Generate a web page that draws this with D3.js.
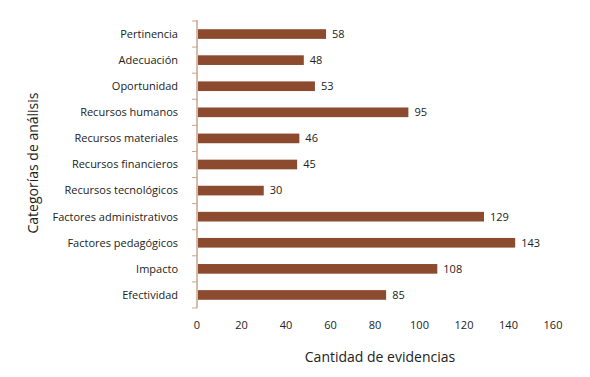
<!DOCTYPE html>
<html><head><meta charset="utf-8">
<script src="https://cdn.jsdelivr.net/npm/d3@7"></script>
<style>body{margin:0;background:#fff;} svg{display:block;}</style>
</head><body>
<svg id="c" width="590" height="377"></svg>
<script>
const categories = ["Pertinencia","Adecuación","Oportunidad","Recursos humanos","Recursos materiales","Recursos financieros","Recursos tecnológicos","Factores administrativos","Factores pedagógicos","Impacto","Efectividad"];
const values = [58,48,53,95,46,45,30,129,143,108,85];
const xTicks = [0,20,40,60,80,100,120,140,160];

const svg = d3.select("#c");
const font = "'Open Sans', sans-serif";
const x = d3.scaleLinear().domain([0,160]).range([197,553]);
const y = d3.scaleBand().domain(categories).range([21,308]).paddingInner(0.63).paddingOuter(0.315);
const barColor = "#8c4a2f", axisColor = "#c9a48f";

// y axis
const yAxis = svg.append("g").attr("transform","translate(197,0)");
yAxis.append("line").attr("x1",0).attr("x2",0).attr("y1",20).attr("y2",308).attr("stroke",axisColor).attr("stroke-width",1.5);
const step = y.step();
const bounds = d3.range(categories.length+1).map(i => 21 + i*step);
yAxis.selectAll(".tk").data(bounds).join("line").attr("x1",-5).attr("x2",0).attr("y1",d=>d).attr("y2",d=>d).attr("stroke",axisColor).attr("stroke-width",1);

svg.append("g").selectAll("text").data(categories).join("text")
  .attr("x",178).attr("y",d=>y(d)+y.bandwidth()/2).attr("dy","0.35em")
  .attr("text-anchor","end").attr("font-family",font).attr("font-size",11).attr("fill","#222").text(d=>d);

// bars
svg.append("g").selectAll("rect").data(values).join("rect")
  .attr("x",x(0)+1).attr("y",(d,i)=>y(categories[i])).attr("width",d=>x(d)-x(0)-1).attr("height",y.bandwidth()).attr("fill",barColor);

svg.append("g").selectAll("text").data(values).join("text")
  .attr("x",d=>x(d)+6).attr("y",(d,i)=>y(categories[i])+y.bandwidth()/2).attr("dy","0.35em")
  .attr("font-family",font).attr("font-size",11).attr("fill","#222").text(d=>d);

// x tick labels
svg.append("g").selectAll("text").data(xTicks).join("text")
  .attr("x",d=>x(d)).attr("y",325).attr("dy","0.35em").attr("text-anchor","middle")
  .attr("font-family",font).attr("font-size",11).attr("fill","#222").text(d=>d);

svg.append("text").attr("x",380).attr("y",357).attr("dy","0.35em").attr("text-anchor","middle")
  .attr("font-family",font).attr("font-size",14).attr("fill","#222").text("Cantidad de evidencias");
svg.append("text").attr("transform","translate(33,163) rotate(-90)").attr("dy","0.35em").attr("text-anchor","middle")
  .attr("font-family",font).attr("font-size",14).attr("fill","#222").text("Categorías de análisis");
</script>
</body></html>
